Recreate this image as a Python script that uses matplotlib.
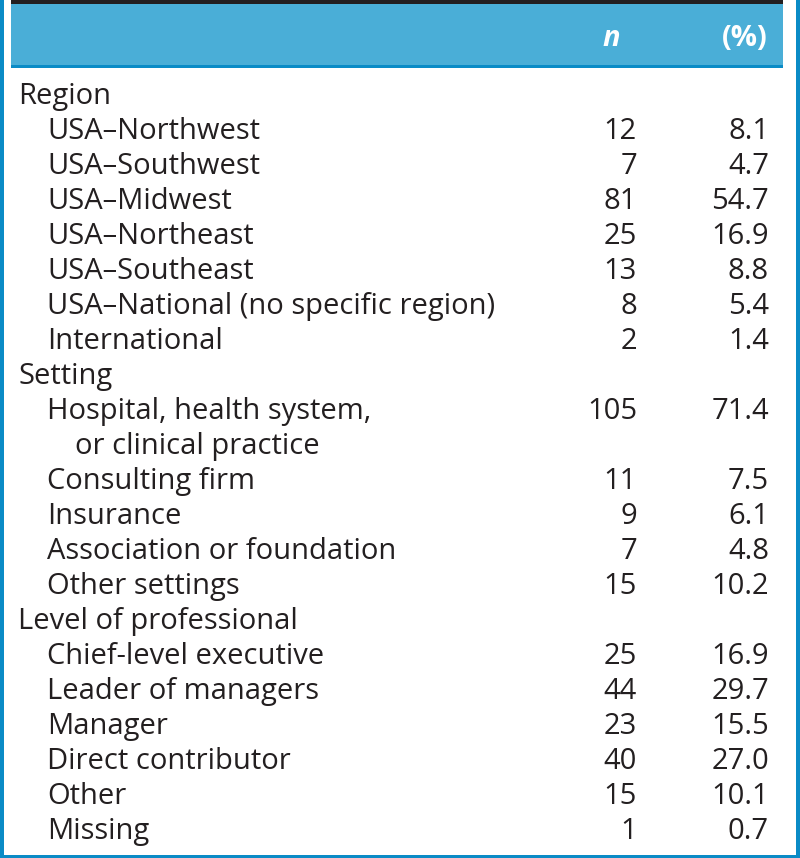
import matplotlib
matplotlib.use("Agg")
import matplotlib.pyplot as plt
from matplotlib.patches import Rectangle

labels = ["Region", "USA\u2013Northwest", "USA\u2013Southwest", "USA\u2013Midwest",
          "USA\u2013Northeast", "USA\u2013Southeast", "USA\u2013National (no specific region)",
          "International", "Setting", "Hospital, health system,", "or clinical practice",
          "Consulting firm", "Insurance", "Association or foundation", "Other settings",
          "Level of professional", "Chief-level executive", "Leader of managers",
          "Manager", "Direct contributor", "Other", "Missing"]
indent = [0, 1, 1, 1, 1, 1, 1, 1, 0, 1, 2, 1, 1, 1, 1, 0, 1, 1, 1, 1, 1, 1]
n_vals = ["", "12", "7", "81", "25", "13", "8", "2", "", "105", "", "11", "9", "7", "15",
          "", "25", "44", "23", "40", "15", "1"]
pct_vals = ["", "8.1", "4.7", "54.7", "16.9", "8.8", "5.4", "1.4", "", "71.4", "",
            "7.5", "6.1", "4.8", "10.2", "", "16.9", "29.7", "15.5", "27.0", "10.1", "0.7"]
headers = ["n", "(%)"]

W, H = 800, 858
fig = plt.figure(figsize=(W / 100, H / 100), dpi=100)
ax = fig.add_axes([0, 0, 1, 1])
ax.set_xlim(0, W)
ax.set_ylim(H, 0)
ax.axis("off")

border = "#0a8bc6"
head = "#4aaed7"
dark = "#231f20"
txt = "#231f20"

# outer border
ax.add_patch(Rectangle((0, 0), 3.5, H, color=border, lw=0))
ax.add_patch(Rectangle((795.5, 0), 4.5, H, color=border, lw=0))
ax.add_patch(Rectangle((0, 854.5), W, 3.5, color=border, lw=0))
# header
ax.add_patch(Rectangle((11, 0), 772, 3.5, color=dark, lw=0))
ax.add_patch(Rectangle((11, 3.5), 772, 62, color=head, lw=0))
ax.add_patch(Rectangle((11, 65), 772, 3, color=border, lw=0))

font = "Open Sans"
fs = 21.0
ax.text(620, 38, headers[0], ha="right", va="center", fontsize=fs, color="white",
        fontweight="bold", fontstyle="italic", family=font)
ax.text(768, 38, headers[1], ha="right", va="center", fontsize=fs, color="white",
        fontweight="bold", family=font)

x_ind = {0: 18, 1: 47, 2: 75}
y0, dy = 93, 35
for i, (lab, lv, nv, pv) in enumerate(zip(labels, indent, n_vals, pct_vals)):
    y = y0 + i * dy
    ax.text(x_ind[lv], y, lab, ha="left", va="center_baseline", fontsize=fs, color=txt, family=font)
    if nv:
        ax.text(637, y, nv, ha="right", va="center_baseline", fontsize=fs, color=txt, family=font)
    if pv:
        ax.text(769, y, pv, ha="right", va="center_baseline", fontsize=fs, color=txt, family=font)

fig.savefig("out.png", dpi=100)
